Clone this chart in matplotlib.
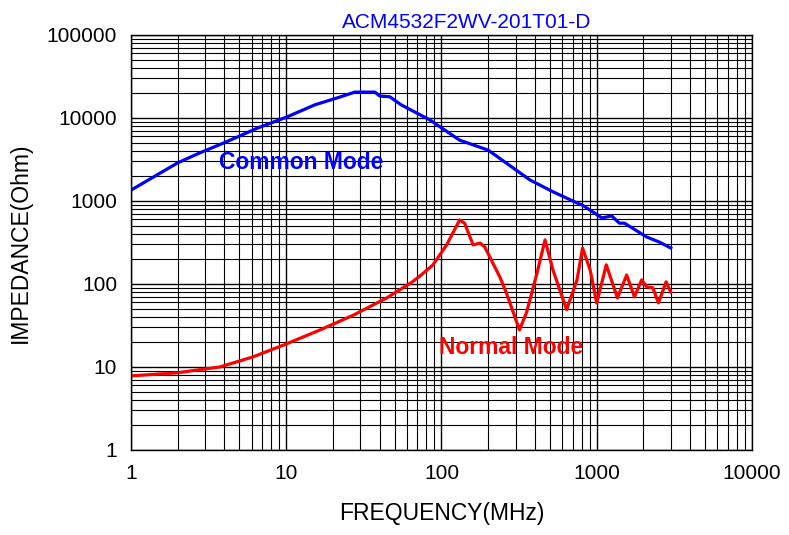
import matplotlib
matplotlib.use("Agg")
import matplotlib.pyplot as plt
from matplotlib.ticker import LogLocator, FixedLocator, NullFormatter

plt.rcParams['font.family'] = ['Liberation Sans', 'DejaVu Sans']

# common mode impedance (MHz, Ohm)
cm_freq = [1, 2, 2.78, 4.09, 6.58, 10, 15.3, 22, 27.7, 37.3, 40, 46.5, 55,
           84, 131, 200, 372, 523, 747, 811, 1081, 1250, 1400, 1510, 2100,
           2550, 3000]
cm_imp = [1350, 2880, 3800, 5130, 7600, 10200, 14400, 17800, 20500, 20500,
          18400, 18000, 14400, 9500, 5400, 4100, 1790, 1290, 946, 890, 624,
          660, 540, 540, 368, 318, 271]

# normal mode impedance (MHz, Ohm)
nm_freq = [1, 1.98, 3.74, 6.1, 10, 16.5, 27, 44.5, 65, 72.8, 88, 108, 131,
           141, 160, 177, 190, 238, 262, 318, 353, 413, 465, 523, 640, 747,
           811, 908, 1000, 1153, 1360, 1560, 1750, 1950, 2100, 2300, 2500,
           2800, 3000]
nm_imp = [7.8, 8.5, 10, 13.2, 18.9, 27.9, 42, 68, 106, 125, 169, 295, 590,
          540, 295, 311, 280, 121, 78, 28, 45, 136, 340, 147, 49, 112, 271,
          147, 59, 170, 68, 128, 70, 112, 92, 90, 59, 106, 80]

x_ticks = [1, 10, 100, 1000, 10000]
y_ticks = [1, 10, 100, 1000, 10000, 100000]

fig = plt.figure(figsize=(7.89, 5.35), dpi=100)
ax = fig.add_axes([0.166, 0.159, 0.787, 0.7756])

ax.plot(cm_freq, cm_imp, color='#0000ff', lw=2.3)
ax.plot(nm_freq, nm_imp, color='#ff0000', lw=2.3)

ax.set_xscale('log')
ax.set_yscale('log')
ax.set_xlim(1, 10000)
ax.set_ylim(1, 100000)

ax.xaxis.set_major_locator(FixedLocator(x_ticks))
ax.yaxis.set_major_locator(FixedLocator(y_ticks))
ax.set_xticklabels([str(v) for v in x_ticks])
ax.set_yticklabels([str(v) for v in y_ticks])
ax.xaxis.set_minor_locator(LogLocator(base=10, subs=range(2, 10), numticks=20))
ax.yaxis.set_minor_locator(LogLocator(base=10, subs=range(2, 10), numticks=20))
ax.xaxis.set_minor_formatter(NullFormatter())
ax.yaxis.set_minor_formatter(NullFormatter())

ax.grid(True, which='major', color='black', lw=1.0)
ax.grid(True, which='minor', color='black', lw=0.8)
ax.set_axisbelow(True)
ax.tick_params(which='both', length=0, labelsize=15)
ax.tick_params(axis='x', pad=10)
ax.tick_params(axis='y', pad=10)
for s in ax.spines.values():
    s.set_color('black')
    s.set_linewidth(1.0)

ax.set_xlabel('FREQUENCY(MHz)', fontsize=16.5, labelpad=14)
ax.set_ylabel('IMPEDANCE(Ohm)', fontsize=16.5, labelpad=11)
ax.set_title('ACM4532F2WV-201T01-D', color='#0000ff', fontsize=15, pad=5,
             x=0.54)

ax.text(12.4, 2900, 'Common Mode', color='#0000ff', fontsize=16.5,
        fontweight='bold', ha='center', va='center')
ax.text(283, 17.3, 'Normal Mode', color='#ff0000', fontsize=16.5,
        fontweight='bold', ha='center', va='center')

fig.savefig('out.png', dpi=100)
